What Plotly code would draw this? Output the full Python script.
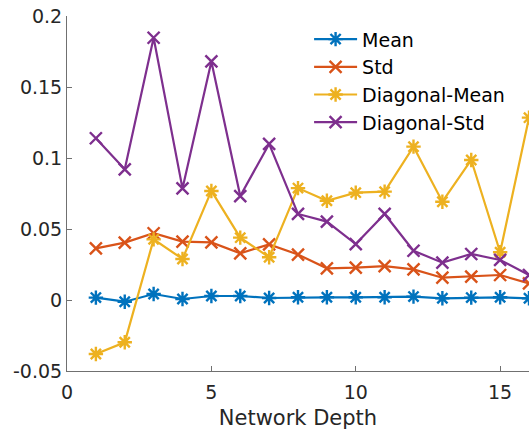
import plotly.graph_objects as go

depth = list(range(1, 17))
mean_vals = [0.0017, -0.0012, 0.0042, 0.0007, 0.0028, 0.0028, 0.0014, 0.0019,
             0.0019, 0.0019, 0.0019, 0.0024, 0.0012, 0.0017, 0.0019, 0.0012]
std_vals = [0.0364, 0.0404, 0.0470, 0.0411, 0.0406, 0.0329, 0.0392, 0.0320,
            0.0223, 0.0228, 0.0239, 0.0216, 0.0157, 0.0164, 0.0176, 0.0117]
diag_mean_vals = [-0.0380, -0.0298, 0.0427, 0.0289, 0.0768, 0.0439, 0.0301, 0.0788,
                  0.0699, 0.0756, 0.0763, 0.1080, 0.0692, 0.0986, 0.0336, 0.1284]
diag_std_vals = [0.1139, 0.0920, 0.1847, 0.0786, 0.1680, 0.0732, 0.1099, 0.0606,
                 0.0552, 0.0394, 0.0606, 0.0347, 0.0263, 0.0324, 0.0282, 0.0176]

y_ticks = [-0.05, 0, 0.05, 0.1, 0.15, 0.2]
y_ticklabels = ["-0.05", "0", "0.05", "0.1", "0.15", "0.2"]
x_ticks = [0, 5, 10, 15]

series = [
    ("Mean", mean_vals, "#0072BD", "asterisk-open"),
    ("Std", std_vals, "#D95319", "x-thin-open"),
    ("Diagonal-Mean", diag_mean_vals, "#EDB120", "asterisk-open"),
    ("Diagonal-Std", diag_std_vals, "#7E2F8E", "x-thin-open"),
]

fig = go.Figure()
for name, vals, color, sym in series:
    fig.add_trace(go.Scatter(
        x=depth, y=vals, name=name, mode="lines+markers",
        line=dict(color=color, width=2.2),
        marker=dict(symbol=sym, size=12, color=color,
                    line=dict(color=color, width=2.4)),
        cliponaxis=False,
    ))

font = "DejaVu Sans, sans-serif"
axis_col = "#707070"
fig.update_layout(
    width=529, height=431,
    margin=dict(l=67, r=0, t=16, b=60, autoexpand=False),
    paper_bgcolor="white", plot_bgcolor="white",
    font=dict(family=font, size=19, color="#262626"),
    showlegend=True,
    legend=dict(x=0.524, y=0.988, xanchor="left", yanchor="top",
                bgcolor="rgba(255,255,255,0)", borderwidth=0,
                font=dict(size=19, color="#000000"),
                itemwidth=43, tracegroupgap=0),
    xaxis=dict(range=[0, 16], tickvals=x_ticks, ticks="inside", ticklen=5,
               tickcolor=axis_col, showline=True, linecolor=axis_col,
               linewidth=1, showgrid=False, zeroline=False, mirror=False,
               automargin=False, ticklabelstandoff=4,
               title=dict(text="Network Depth", standoff=8,
                          font=dict(size=21, color="#262626")),
               tickfont=dict(size=19, color="#262626")),
    yaxis=dict(range=[-0.05, 0.2], tickvals=y_ticks, ticktext=y_ticklabels,
               ticks="inside", ticklen=5, tickcolor=axis_col, showline=True,
               linecolor=axis_col, linewidth=1, showgrid=False,
               zeroline=False, mirror=False, automargin=False,
               ticklabeloverflow="allow",
               tickfont=dict(size=19, color="#262626")),
)

fig.write_html(
    "out.html",
    config={"displayModeBar": False},
    post_script="document.body.style.margin='0';document.body.style.overflow='hidden';",
)
